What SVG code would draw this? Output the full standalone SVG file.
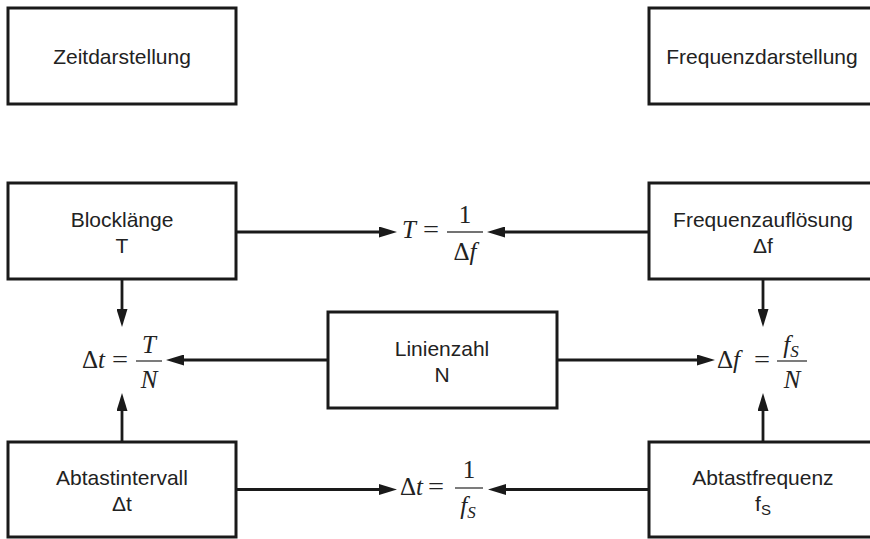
<svg xmlns="http://www.w3.org/2000/svg" width="870" height="539" viewBox="0 0 870 539">
<style>
.box{fill:#fff;stroke:#1a1a1a;stroke-width:3}
.lbl{font-family:"Liberation Sans",Arial,sans-serif;font-size:21px;fill:#222;text-anchor:middle}
.math{font-family:"Liberation Serif","Times New Roman",serif;font-size:25px;fill:#222}
.c{text-anchor:middle}
.it{font-style:italic}
.sub{font-size:17px}
.frac{stroke:#444;stroke-width:1.4}
.conn{fill:none;stroke:#1a1a1a;stroke-width:2.8}
</style>
<defs>
<marker id="arr" markerUnits="userSpaceOnUse" markerWidth="18" markerHeight="11" refX="9" refY="5.5" orient="auto">
<path d="M0,0 L18,5.5 L0,11 z" fill="#1a1a1a"/>
</marker>
</defs>
<rect width="870" height="539" fill="#fff"/>

<g id="zeitdarstellung">
<rect class="box" x="8" y="8" width="228" height="96"/>
<text class="lbl" x="122" y="64">Zeitdarstellung</text>
</g>
<g id="frequenzdarstellung">
<rect class="box" x="649" y="8" width="229" height="96"/>
<text class="lbl" x="762" y="64">Frequenzdarstellung</text>
</g>
<g id="blocklaenge">
<rect class="box" x="8" y="183" width="228" height="96"/>
<text class="lbl" x="122" y="227">Blocklänge</text>
<text class="lbl" x="122" y="253">T</text>
</g>
<g id="frequenzaufloesung">
<rect class="box" x="649" y="183" width="229" height="96"/>
<text class="lbl" x="763" y="227">Frequenzauflösung</text>
<text class="lbl" x="763" y="253">Δf</text>
</g>
<g id="linienzahl">
<rect class="box" x="328" y="312" width="229" height="96"/>
<text class="lbl" x="442" y="356">Linienzahl</text>
<text class="lbl" x="442" y="382">N</text>
</g>
<g id="abtastintervall">
<rect class="box" x="8" y="442" width="228" height="95"/>
<text class="lbl" x="122" y="485">Abtastintervall</text>
<text class="lbl" x="122" y="511">Δt</text>
</g>
<g id="abtastfrequenz">
<rect class="box" x="649" y="442" width="229" height="95"/>
<text class="lbl" x="763" y="485">Abtastfrequenz</text>
<text class="lbl" x="763" y="511">f<tspan class="sub" style="font-size:15px" dy="4">S</tspan></text>
</g>

<g id="formula-T">
<text class="math it" x="402" y="238">T</text>
<text class="math" x="423" y="238" textLength="16" lengthAdjust="spacingAndGlyphs">=</text>
<line class="frac" x1="447" y1="232" x2="483" y2="232"/>
<text class="math c" x="465" y="223">1</text>
<text class="math c" x="465" y="260">Δ<tspan class="it">f</tspan></text>
</g>
<g id="formula-dt-TN">
<text class="math" x="82" y="368">Δ<tspan class="it">t</tspan></text>
<text class="math" x="112" y="368" textLength="16" lengthAdjust="spacingAndGlyphs">=</text>
<line class="frac" x1="136" y1="361" x2="162" y2="361"/>
<text class="math it c" x="149" y="353">T</text>
<text class="math it c" x="149" y="388">N</text>
</g>
<g id="formula-df">
<text class="math" x="717" y="368">Δ<tspan class="it">f</tspan></text>
<text class="math" x="754" y="368" textLength="16" lengthAdjust="spacingAndGlyphs">=</text>
<line class="frac" x1="777" y1="361" x2="807" y2="361"/>
<text class="math it c" x="791" y="353">f<tspan class="sub" dy="4">S</tspan></text>
<text class="math it c" x="792" y="388">N</text>
</g>
<g id="formula-dt-fs">
<text class="math" x="400" y="495">Δ<tspan class="it">t</tspan></text>
<text class="math" x="428" y="495" textLength="16" lengthAdjust="spacingAndGlyphs">=</text>
<line class="frac" x1="455" y1="488" x2="483" y2="488"/>
<text class="math c" x="469" y="478">1</text>
<text class="math it c" x="468" y="514">f<tspan class="sub" dy="4">S</tspan></text>
</g>

<g id="connectors">
<path class="conn" d="M236 232 H388" marker-end="url(#arr)"/>
<path class="conn" d="M649 232 H496" marker-end="url(#arr)"/>
<path class="conn" d="M122 279 V318" marker-end="url(#arr)"/>
<path class="conn" d="M328 360 H175" marker-end="url(#arr)"/>
<path class="conn" d="M122 442 V402" marker-end="url(#arr)"/>
<path class="conn" d="M763 279 V318" marker-end="url(#arr)"/>
<path class="conn" d="M557 360 H706" marker-end="url(#arr)"/>
<path class="conn" d="M763 442 V402" marker-end="url(#arr)"/>
<path class="conn" d="M236 489.5 H388" marker-end="url(#arr)"/>
<path class="conn" d="M649 489.5 H497" marker-end="url(#arr)"/>
</g>
</svg>
